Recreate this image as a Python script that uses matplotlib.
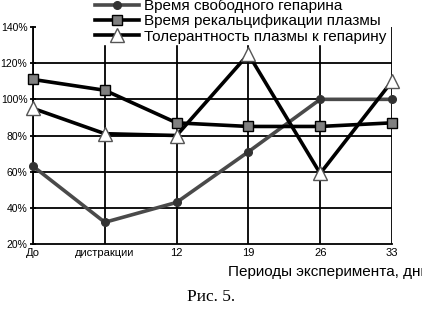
import matplotlib
matplotlib.use("Agg")
import matplotlib.pyplot as plt

categories = ["До", "дистракции", "12", "19", "26", "33"]
free_heparin = [63, 32, 43, 71, 100, 100]
recalcification = [111, 105, 87, 85, 85, 87]
tolerance = [95, 81, 80, 125, 59, 110]
y_ticks = [20, 40, 60, 80, 100, 120, 140]

plt.rcParams["font.family"] = ["Liberation Sans", "DejaVu Sans"]

fig = plt.figure(figsize=(4.22, 3.13), dpi=100)
ax = fig.add_axes([33 / 422, 1 - 244 / 313, (392 - 33) / 422, (244 - 27) / 313])

x = range(len(categories))

# grid
for yv in y_ticks[1:-1]:
    ax.axhline(yv, color="black", lw=1.3, zorder=1)
for xv in x:
    ax.axvline(xv, color="black", lw=1.3, zorder=1)

l1, = ax.plot(x, free_heparin, color="#4a4a4a", lw=2.6, marker="o", ms=5.5,
              mfc="#333333", mec="#333333", zorder=3, clip_on=False)
l2, = ax.plot(x, recalcification, color="black", lw=2.6, marker="s", ms=7,
              mfc="#808080", mec="black", mew=1, zorder=4, clip_on=False)
l3, = ax.plot(x, tolerance, color="black", lw=2.6, marker="^", ms=10,
              mfc="white", mec="#555555", mew=1, zorder=5, clip_on=False)

ax.set_xlim(0, 5)
ax.set_ylim(20, 140)
ax.set_yticks(y_ticks)
ax.set_yticklabels([f"{v}%" for v in y_ticks], fontsize=7.5)
ax.set_xticks(list(x))
ax.set_xticklabels(categories, fontsize=8)
ax.tick_params(axis="y", length=4, width=1.3, direction="inout", pad=2)
ax.tick_params(axis="x", length=0, pad=3)
for s in ["top", "right"]:
    ax.spines[s].set_visible(False)
ax.spines["left"].set_linewidth(1.3)
ax.spines["bottom"].set_linewidth(1.3)

leg = fig.legend([l1, l2, l3],
                 ["Время свободного гепарина",
                  "Время рекальцификации плазмы",
                  "Толерантность плазмы к гепарину"],
                 loc="upper left", bbox_to_anchor=(95 / 422, 1.005),
                 fontsize=11, frameon=True, fancybox=False, handlelength=2.9,
                 handletextpad=0.3, labelspacing=0.09, borderpad=0.0,
                 borderaxespad=0)
leg.get_frame().set_edgecolor("white")
leg.get_frame().set_facecolor("white")
leg.get_frame().set_alpha(1)
leg.set_zorder(10)

fig.text(228 / 422, 1 - 272 / 313, "Периоды эксперимента, дни", ha="left",
         va="center", fontsize=11)
fig.text(0.5, 1 - 297 / 313, "Рис. 5.", ha="center", va="center",
         fontsize=12.5, family=["Liberation Serif", "DejaVu Serif"])

fig.savefig("out.png", dpi=100)
